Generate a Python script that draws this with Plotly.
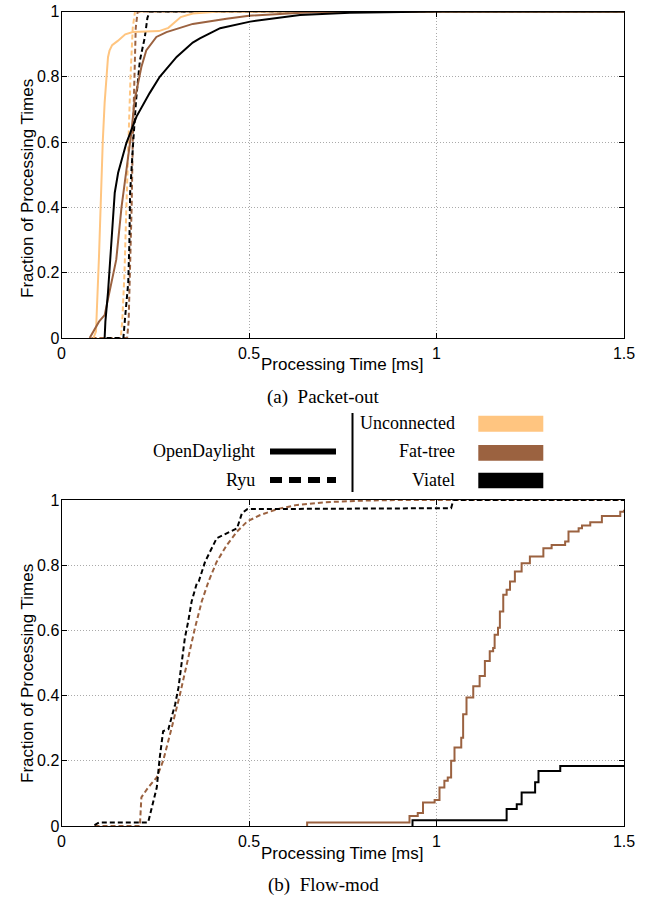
import plotly.graph_objects as go

W, H = 652, 899

# ---------------- data ----------------
x_ticks = [0, 0.5, 1, 1.5]
x_tick_labels = ["0", "0.5", "1", "1.5"]
y_ticks = [0, 0.2, 0.4, 0.6, 0.8, 1]
y_tick_labels = ["0", "0.2", "0.4", "0.6", "0.8", "1"]

topologies = ["Unconnected", "Fat-tree", "Viatel"]
controllers = ["OpenDaylight", "Ryu"]
topo_colors = {"Unconnected": "#FFC580", "Fat-tree": "#9B6240", "Viatel": "#000000"}

# (a) Packet-out
po_odl_unconnected_x = [0.085, 0.092, 0.1, 0.106, 0.11, 0.115, 0.119, 0.124, 0.128, 0.135, 0.15, 0.17, 0.19, 0.26, 0.285, 0.3, 0.318, 0.35, 0.42, 1.5]
po_odl_unconnected_y = [0, 0.02, 0.25, 0.48, 0.6, 0.72, 0.8, 0.86, 0.88, 0.897, 0.91, 0.93, 0.937, 0.94, 0.95, 0.965, 0.983, 0.994, 1.0, 1.0]
po_odl_fattree_x = [0.075, 0.085, 0.1, 0.115, 0.128, 0.146, 0.16, 0.173, 0.186, 0.195, 0.213, 0.226, 0.253, 0.28, 0.35, 0.44, 0.5, 0.64, 0.75, 1.5]
po_odl_fattree_y = [0, 0.02, 0.05, 0.07, 0.14, 0.24, 0.4, 0.506, 0.627, 0.729, 0.83, 0.881, 0.922, 0.937, 0.962, 0.978, 0.987, 0.996, 1.0, 1.0]
po_odl_viatel_x = [0.115, 0.117, 0.124, 0.133, 0.142, 0.151, 0.16, 0.173, 0.2, 0.235, 0.262, 0.307, 0.35, 0.369, 0.423, 0.503, 0.636, 0.769, 1.0, 1.5]
po_odl_viatel_y = [0, 0.05, 0.14, 0.29, 0.445, 0.506, 0.546, 0.597, 0.678, 0.75, 0.8, 0.861, 0.905, 0.918, 0.949, 0.969, 0.989, 0.996, 1.0, 1.0]
po_ryu_unconnected_x = [0.08, 0.158, 0.162, 0.168, 0.173, 0.178, 0.184, 0.19, 0.196, 1.5]
po_ryu_unconnected_y = [0, 0, 0.05, 0.2, 0.4, 0.6, 0.8, 0.95, 1.0, 1.0]
po_ryu_fattree_x = [0.08, 0.175, 0.179, 0.183, 0.187, 0.19, 0.194, 0.198, 0.203, 1.5]
po_ryu_fattree_y = [0, 0, 0.05, 0.2, 0.4, 0.6, 0.8, 0.95, 1.0, 1.0]
po_ryu_viatel_x = [0.12, 0.165, 0.17, 0.178, 0.181, 0.183, 0.191, 0.199, 0.209, 0.222, 0.229, 0.235, 1.5]
po_ryu_viatel_y = [0, 0, 0.068, 0.17, 0.29, 0.445, 0.597, 0.73, 0.85, 0.92, 0.98, 1.0, 1.0]

# (b) Flow-mod
fm_odl_fattree_x = [0.655, 0.655, 0.928, 0.95, 0.964, 0.995, 1.008, 1.021, 1.03, 1.039, 1.048, 1.066, 1.071, 1.08, 1.098, 1.115, 1.129, 1.142, 1.151, 1.155, 1.164, 1.169, 1.178, 1.187, 1.196, 1.209, 1.227, 1.249, 1.285, 1.307, 1.343, 1.352, 1.379, 1.388, 1.41, 1.441, 1.49, 1.5]
fm_odl_fattree_y = [0, 0.011, 0.031, 0.04, 0.072, 0.08, 0.118, 0.139, 0.149, 0.2, 0.241, 0.271, 0.343, 0.394, 0.429, 0.46, 0.506, 0.536, 0.546, 0.587, 0.608, 0.658, 0.709, 0.725, 0.75, 0.781, 0.806, 0.827, 0.852, 0.862, 0.873, 0.903, 0.913, 0.922, 0.932, 0.951, 0.964, 0.97]
fm_odl_viatel_x = [0.936, 0.936, 1.187, 1.214, 1.227, 1.263, 1.272, 1.33, 1.5]
fm_odl_viatel_y = [0, 0.018, 0.052, 0.067, 0.103, 0.134, 0.169, 0.184, 0.184]
fm_ryu_fattree_x = [0.088, 0.209, 0.213, 0.231, 0.254, 0.271, 0.294, 0.316, 0.338, 0.356, 0.374, 0.392, 0.414, 0.441, 0.468, 0.495, 0.53, 0.575, 0.629, 0.7, 0.8, 0.9, 1.5]
fm_ryu_fattree_y = [0, 0, 0.088, 0.118, 0.149, 0.2, 0.302, 0.404, 0.516, 0.608, 0.689, 0.75, 0.811, 0.862, 0.903, 0.934, 0.954, 0.972, 0.985, 0.993, 0.998, 1.0, 1.0]
fm_ryu_viatel_x = [0.088, 0.1, 0.231, 0.254, 0.262, 0.271, 0.285, 0.303, 0.312, 0.321, 0.329, 0.338, 0.347, 0.361, 0.366, 0.383, 0.401, 0.414, 0.432, 0.45, 0.468, 0.481, 0.495, 1.039, 1.045, 1.5]
fm_ryu_viatel_y = [0.003, 0.011, 0.011, 0.118, 0.21, 0.291, 0.297, 0.373, 0.425, 0.506, 0.577, 0.628, 0.689, 0.745, 0.75, 0.811, 0.852, 0.883, 0.893, 0.903, 0.913, 0.959, 0.972, 0.975, 1.0, 1.0]

# ---------------- helpers ----------------
def px(x):
    return x / W

def py(y):
    return 1 - y / H

SANS = "Liberation Sans, Arial, sans-serif"
SERIF = "Liberation Serif, Times New Roman, serif"
RYU_DASH = "5px,3px"

fig = go.Figure()

def add(x, y, color, dash, xa, ya, shape="linear"):
    fig.add_trace(go.Scatter(
        x=x, y=y, mode="lines", xaxis=xa, yaxis=ya, showlegend=False,
        line=dict(color=color, width=2, dash=dash, shape=shape),
        hoverinfo="skip"))

# top panel
add(po_ryu_unconnected_x, po_ryu_unconnected_y, topo_colors["Unconnected"], RYU_DASH, "x", "y")
add(po_ryu_fattree_x, po_ryu_fattree_y, topo_colors["Fat-tree"], RYU_DASH, "x", "y")
add(po_ryu_viatel_x, po_ryu_viatel_y, topo_colors["Viatel"], RYU_DASH, "x", "y")
add(po_odl_unconnected_x, po_odl_unconnected_y, topo_colors["Unconnected"], "solid", "x", "y")
add(po_odl_fattree_x, po_odl_fattree_y, topo_colors["Fat-tree"], "solid", "x", "y")
add(po_odl_viatel_x, po_odl_viatel_y, topo_colors["Viatel"], "solid", "x", "y")

# bottom panel
add(fm_ryu_fattree_x, fm_ryu_fattree_y, topo_colors["Fat-tree"], RYU_DASH, "x2", "y2")
add(fm_ryu_viatel_x, fm_ryu_viatel_y, topo_colors["Viatel"], RYU_DASH, "x2", "y2")
add(fm_odl_fattree_x, fm_odl_fattree_y, topo_colors["Fat-tree"], "solid", "x2", "y2", shape="hv")
add(fm_odl_viatel_x, fm_odl_viatel_y, topo_colors["Viatel"], "solid", "x2", "y2", shape="hv")

x_dom = [px(61.5), px(624)]
top_dom = [py(338), py(11.5)]
bot_dom = [py(826), py(500)]

GRID = dict(showgrid=True, gridcolor="#aaaaaa", griddash="1px,2px", gridwidth=1)

def xaxis(anchor):
    return dict(domain=x_dom, range=[0, 1.5], anchor=anchor, automargin=False,
                tickvals=x_ticks, ticktext=x_tick_labels,
                ticks="inside", ticklen=5, tickcolor="black",
                showline=True, linecolor="black", linewidth=1, mirror="ticks",
                zeroline=False, tickfont=dict(family=SANS, size=16, color="black"),
                ticklabelstandoff=1, **GRID)

def yaxis(dom, anchor):
    return dict(domain=dom, range=[0, 1], anchor=anchor, automargin=False,
                tickvals=y_ticks, ticktext=y_tick_labels,
                ticks="inside", ticklen=5, tickcolor="black",
                showline=True, linecolor="black", linewidth=1, mirror="ticks",
                zeroline=False, tickfont=dict(family=SANS, size=16, color="black"),
                ticklabelstandoff=-2, **GRID)

fig.update_layout(
    width=W, height=H, margin=dict(l=0, r=0, t=0, b=0, autoexpand=False),
    paper_bgcolor="white", plot_bgcolor="white",
    xaxis=xaxis("y"), yaxis=yaxis(top_dom, "x"),
    xaxis2=xaxis("y2"), yaxis2=yaxis(bot_dom, "x2"),
)

ann = []
def text(t, x, y, size, family, xanchor="center", angle=0):
    ann.append(dict(text=t, x=px(x), y=py(y), xref="paper", yref="paper",
                    showarrow=False, xanchor=xanchor, yanchor="middle",
                    textangle=angle, font=dict(family=family, size=size, color="black")))

# axis titles
text("Processing Time [ms]", 342, 365, 17, SANS)
text("Processing Time [ms]", 342, 853, 17, SANS)
text("Fraction of Processing Times", 27, 189, 17, SANS, angle=-90)
text("Fraction of Processing Times", 27, 674, 17, SANS, angle=-90)
# captions
text("(a)\u2002Packet-out", 323, 397, 19, SERIF)
text("(b)\u2002Flow-mod", 323, 885, 19, SERIF)
# legend texts
text(controllers[0], 257, 451, 18, SERIF, xanchor="right")
text(controllers[1], 257, 480, 18, SERIF, xanchor="right")
text(topologies[0], 457, 423, 18, SERIF, xanchor="right")
text(topologies[1], 457, 451, 18, SERIF, xanchor="right")
text(topologies[2], 457, 480, 18, SERIF, xanchor="right")
fig.update_layout(annotations=ann)

shapes = []
def line(x0, y0, x1, y1, width, dash="solid", color="black"):
    shapes.append(dict(type="line", xref="paper", yref="paper",
                       x0=px(x0), y0=py(y0), x1=px(x1), y1=py(y1),
                       line=dict(color=color, width=width, dash=dash)))

line(270, 451.5, 336, 451.5, 6)
line(270, 480, 336, 480, 6, dash="12px,7px")
line(352.5, 413, 352.5, 492, 2)
for name, (y0, y1) in zip(topologies, [(415.7, 431.7), (445, 460.7), (472.7, 488.3)]):
    shapes.append(dict(type="rect", xref="paper", yref="paper",
                       x0=px(478.3), x1=px(543.3), y0=py(y1), y1=py(y0),
                       line=dict(width=0), fillcolor=topo_colors[name]))
fig.update_layout(shapes=shapes)

fig.write_html("out.html", config={"displayModeBar": False},
               post_script="document.body.style.margin='0';")
